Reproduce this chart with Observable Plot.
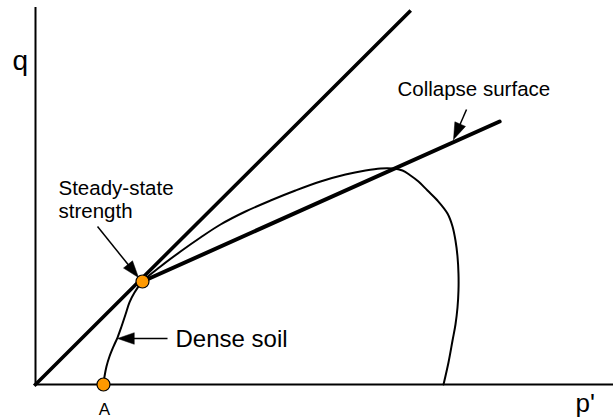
<!DOCTYPE html>
<html>
<head>
<meta charset="utf-8">
<script src="https://cdn.jsdelivr.net/npm/d3@7"></script>
<script src="https://cdn.jsdelivr.net/npm/@observablehq/plot@0.6"></script>
<style>
  html, body { margin: 0; padding: 0; background: #fff; }
  #chart svg { display: block; }
</style>
</head>
<body>
<div id="chart"></div>
<script>
// Stress path (p', q), in arbitrary units
const curveP = [1.176, 1.194, 1.228, 1.280, 1.349, 1.419, 1.488, 1.557, 1.626, 1.713, 1.851,
  2.163, 2.509, 2.855, 3.201, 3.633, 4.066, 4.498, 4.931, 5.363, 5.709, 5.969, 6.176, 6.349,
  6.488, 6.626, 6.782, 6.955, 7.128, 7.215, 7.266, 7.301, 7.318, 7.318, 7.301, 7.266, 7.215, 7.145, 7.059];
const curveQ = [0, 0.138, 0.311, 0.484, 0.657, 0.813, 1.003, 1.211, 1.419, 1.592, 1.782,
  2.042, 2.301, 2.543, 2.768, 2.993, 3.183, 3.356, 3.512, 3.633, 3.702, 3.737, 3.737, 3.702,
  3.616, 3.512, 3.356, 3.183, 2.958, 2.734, 2.491, 2.215, 1.920, 1.626, 1.332, 1.038, 0.761, 0.381, 0];

// Steady-state line (through origin) and collapse surface
const steadyLineP = [0, 6.47];
const steadyLineQ = [0, 6.45];
const collapseP = [1.851, 8.03];
const collapseQ = [1.782, 4.55];

// Special points
const pointNames = ["SS", "A"];
const pointP = [1.851, 1.176];
const pointQ = [1.782, 0];

// Annotation arrows: start -> tip
const arrowNames = ["steady", "collapse", "dense"];
const arrowP1 = [1.073, 7.457, 2.284];
const arrowQ1 = [2.734, 4.758, 0.796];
const arrowP2 = [1.782, 7.232, 1.419];
const arrowQ2 = [1.851, 4.239, 0.796];

// Labels
const labelText = ["Steady-state", "strength", "Collapse surface", "Dense soil"];
const labelP = [0.398, 0.398, 6.263, 2.422];
const labelQ = [3.287, 2.872, 5.0, 0.657];

const curve = curveP.map((p, i) => ({p, q: curveQ[i]}));
const steady = steadyLineP.map((p, i) => ({p, q: steadyLineQ[i]}));
const collapse = collapseP.map((p, i) => ({p, q: collapseQ[i]}));
const points = pointNames.map((n, i) => ({n, p: pointP[i], q: pointQ[i]}));
const arrows = arrowNames.map((n, i) => ({n, p1: arrowP1[i], q1: arrowQ1[i], p2: arrowP2[i], q2: arrowQ2[i]}));
const labels = labelText.map((t, i) => ({t, p: labelP[i], q: labelQ[i]}));

// arrowhead triangles (equal units on both axes)
const headLen = 0.29, headHalf = 0.1;
const heads = [];
arrows.forEach(a => {
  const dx = a.p2 - a.p1, dy = a.q2 - a.q1;
  const L = Math.hypot(dx, dy);
  const ux = dx / L, uy = dy / L;
  const bx = a.p2 - ux * headLen, by = a.q2 - uy * headLen;
  const nx = -uy, ny = ux;
  heads.push({n: a.n, p: a.p2, q: a.q2});
  heads.push({n: a.n, p: bx + nx * headHalf, q: by + ny * headHalf});
  heads.push({n: a.n, p: bx - nx * headHalf, q: by - ny * headHalf});
  heads.push({n: a.n, p: a.p2, q: a.q2});
});
const shafts = arrows.map(a => {
  const dx = a.p2 - a.p1, dy = a.q2 - a.q1;
  const L = Math.hypot(dx, dy);
  return {...a, p3: a.p2 - dx / L * headLen * 0.8, q3: a.q2 - dy / L * headLen * 0.8};
});

const font = "Liberation Sans, Arial, sans-serif";

const plot = Plot.plot({
  width: 613,
  height: 419,
  marginLeft: 35,
  marginRight: 0,
  marginTop: 7,
  marginBottom: 35,
  x: {domain: [0, 10], axis: null},
  y: {domain: [0, 377 / 57.8], axis: null},
  style: {fontFamily: font, background: "#fff", overflow: "visible"},
  marks: [
    Plot.ruleY([0], {x1: 0, x2: 10, stroke: "black", strokeWidth: 2}),
    Plot.ruleX([0], {y1: 0, y2: 377 / 57.8, stroke: "black", strokeWidth: 2}),
    Plot.line(steady, {x: "p", y: "q", stroke: "black", strokeWidth: 3.6, strokeLinecap: "square"}),
    Plot.line(collapse, {x: "p", y: "q", stroke: "black", strokeWidth: 4}),
    Plot.line(curve, {x: "p", y: "q", curve: "catmull-rom", stroke: "black", strokeWidth: 2}),
    Plot.link(shafts, {x1: "p1", y1: "q1", x2: "p3", y2: "q3", stroke: "black", strokeWidth: 1.5}),
    Plot.line(heads, {x: "p", y: "q", z: "n", fill: "black", stroke: "black", strokeWidth: 0.5}),
    Plot.dot(points, {x: "p", y: "q", r: 6.5, fill: "#FF9900", stroke: "black", strokeWidth: 1.2}),
    Plot.text(labels.slice(0, 3), {x: "p", y: "q", text: "t", textAnchor: "start", lineAnchor: "bottom", fontSize: 20.5, fill: "black"}),
    Plot.text(labels.slice(3), {x: "p", y: "q", text: "t", textAnchor: "start", lineAnchor: "bottom", fontSize: 24, fill: "black"}),
    Plot.text(["q"], {x: -0.398, y: 5.433, text: d => d, textAnchor: "start", lineAnchor: "bottom", fontSize: 28, fill: "black"}),
    Plot.text(["p'"], {x: 9.343, y: -0.484, text: d => d, textAnchor: "start", lineAnchor: "bottom", fontSize: 26, fill: "black"}),
    Plot.text(["A"], {x: 1.194, y: -0.536, text: d => d, textAnchor: "middle", lineAnchor: "bottom", fontSize: 17, fill: "black"})
  ]
});
document.getElementById("chart").appendChild(plot);
</script>
</body>
</html>
